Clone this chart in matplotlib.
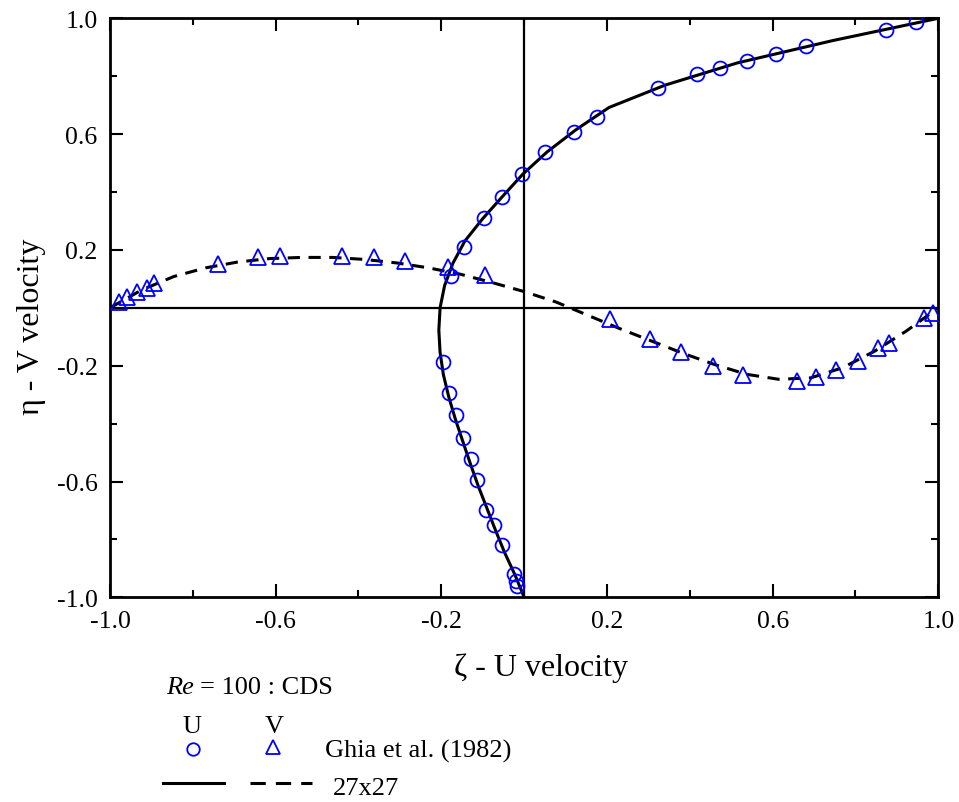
import matplotlib
matplotlib.use('Agg')
import matplotlib.pyplot as plt
from matplotlib.lines import Line2D

plt.rcParams['font.family'] = ['Liberation Serif', 'DejaVu Serif']

# Ghia et al. (1982) - U velocity along the vertical centerline (U, eta)
ghia_u = [0.945, 0.873, 0.680, 0.608, 0.539, 0.474, 0.418, 0.322, 0.175, 0.120,
          0.050, -0.005, -0.054, -0.097, -0.145, -0.177, -0.197, -0.181, -0.165,
          -0.148, -0.128, -0.115, -0.091, -0.072, -0.054, -0.024, -0.019, -0.017]
ghia_u_eta = [0.988, 0.960, 0.905, 0.878, 0.854, 0.829, 0.808, 0.759, 0.658, 0.607,
              0.537, 0.463, 0.384, 0.311, 0.209, 0.111, -0.188, -0.295, -0.370,
              -0.450, -0.522, -0.595, -0.700, -0.750, -0.819, -0.918, -0.943, -0.961]

# Ghia et al. (1982) - V velocity along the horizontal centerline (zeta, V)
ghia_v_zeta = [-0.978, -0.958, -0.934, -0.911, -0.893, -0.740, -0.643, -0.590, -0.439,
               -0.363, -0.288, -0.185, -0.095, 0.207, 0.305, 0.379, 0.455, 0.529,
               0.658, 0.704, 0.752, 0.807, 0.855, 0.881, 0.965, 0.986]
ghia_v = [0.021, 0.036, 0.054, 0.067, 0.085, 0.151, 0.177, 0.180, 0.180, 0.177,
          0.163, 0.140, 0.114, -0.039, -0.108, -0.152, -0.200, -0.232, -0.252,
          -0.238, -0.214, -0.183, -0.139, -0.122, -0.036, -0.018]

# 27x27 CDS solution
cds_u = [0.0, -0.022, -0.047, -0.069, -0.090, -0.111, -0.130, -0.148, -0.166, -0.182,
         -0.195, -0.203, -0.206, -0.203, -0.192, -0.172, -0.143, -0.100, -0.052,
         -0.003, 0.055, 0.125, 0.205, 0.340, 0.515, 0.745, 1.0]
cds_u_eta = [-1.0, -0.923, -0.846, -0.769, -0.692, -0.615, -0.538, -0.462, -0.385,
             -0.308, -0.231, -0.154, -0.077, 0.0, 0.077, 0.154, 0.231, 0.308, 0.385,
             0.462, 0.538, 0.615, 0.692, 0.769, 0.846, 0.923, 1.0]
cds_v_zeta = [-1.0, -0.923, -0.846, -0.769, -0.692, -0.615, -0.538, -0.462, -0.385,
              -0.308, -0.231, -0.154, -0.077, 0.0, 0.077, 0.154, 0.231, 0.308, 0.385,
              0.462, 0.538, 0.615, 0.692, 0.769, 0.846, 0.923, 1.0]
cds_v = [0.0, 0.062, 0.108, 0.138, 0.158, 0.170, 0.174, 0.174, 0.167, 0.155, 0.138,
         0.116, 0.087, 0.056, 0.020, -0.026, -0.072, -0.115, -0.158, -0.197, -0.230,
         -0.247, -0.242, -0.207, -0.150, -0.080, 0.0]

ticks_major = [-1.0, -0.6, -0.2, 0.2, 0.6, 1.0]
ticks_minor = [-0.8, -0.4, 0.0, 0.4, 0.8]

W, H = 959, 803
fig = plt.figure(figsize=(W / 100, H / 100), dpi=100)
ax = fig.add_axes([110 / W, 1 - 598.3 / H, 828.3 / W, 579 / H])

ax.axhline(0, color='black', lw=1.6, zorder=1)
ax.axvline(0, color='black', lw=1.6, zorder=1)

ax.plot(cds_u, cds_u_eta, color='black', lw=2.2, zorder=2)
ax.plot(cds_v_zeta, cds_v, color='black', lw=2.2, dashes=(4, 2.8), zorder=2)
ax.plot(ghia_u, ghia_u_eta, 'o', ms=10, mfc='none', mec='blue', mew=1.3, zorder=3)
ax.plot(ghia_v_zeta, ghia_v, '^', ms=11, mfc='none', mec='blue', mew=1.3, zorder=3)

ax.set_xlim(-1, 1)
ax.set_ylim(-1, 1)
ax.set_xticks(ticks_major)
ax.set_yticks(ticks_major)
ax.set_xticks(ticks_minor, minor=True)
ax.set_yticks(ticks_minor, minor=True)
ax.set_xticklabels(['%.1f' % t for t in ticks_major])
ax.set_yticklabels(['%.1f' % t for t in ticks_major])
ax.tick_params(which='both', direction='in', top=True, right=True, width=1.5, labelsize=18.5)
ax.tick_params(which='major', length=9.4, pad=9)
ax.tick_params(which='minor', length=4.8)
for s in ax.spines.values():
    s.set_linewidth(2.0)

fig.text(541 / W, 1 - 668 / H, '\u03b6 - U velocity', fontsize=23, ha='center', va='center')
fig.text(31 / W, 1 - 327 / H, '\u03b7 - V velocity', fontsize=23, ha='center', va='center',
         rotation=90)

# legend block
def fx(px):
    return px / W

def fy(py):
    return 1 - py / H

fig.text(fx(166), fy(694), 'Re', fontsize=19, style='italic', va='baseline')
fig.text(fx(200), fy(694), '= 100 : CDS', fontsize=19, va='baseline')
fig.text(fx(192), fy(733), 'U', fontsize=19, ha='center', va='baseline')
fig.text(fx(274), fy(733), 'V', fontsize=19, ha='center', va='baseline')
fig.add_artist(Line2D([fx(193)], [fy(750)], marker='o', ms=9, mfc='none', mec='blue',
                      mew=1.3, transform=fig.transFigure))
fig.add_artist(Line2D([fx(273)], [fy(748)], marker='^', ms=10, mfc='none', mec='blue',
                      mew=1.3, transform=fig.transFigure))
fig.text(fx(325), fy(758), 'Ghia et al. (1982)', fontsize=19, va='baseline')
fig.add_artist(Line2D([fx(163), fx(224)], [fy(784), fy(784)], color='black', lw=2.2,
                      transform=fig.transFigure))
fig.add_artist(Line2D([fx(250), fx(312)], [fy(784), fy(784)], color='black', lw=2.2,
                      dashes=(5, 3.3), transform=fig.transFigure))
fig.text(fx(333), fy(795), '27x27', fontsize=19, va='baseline')

fig.savefig('out.png', dpi=100)
